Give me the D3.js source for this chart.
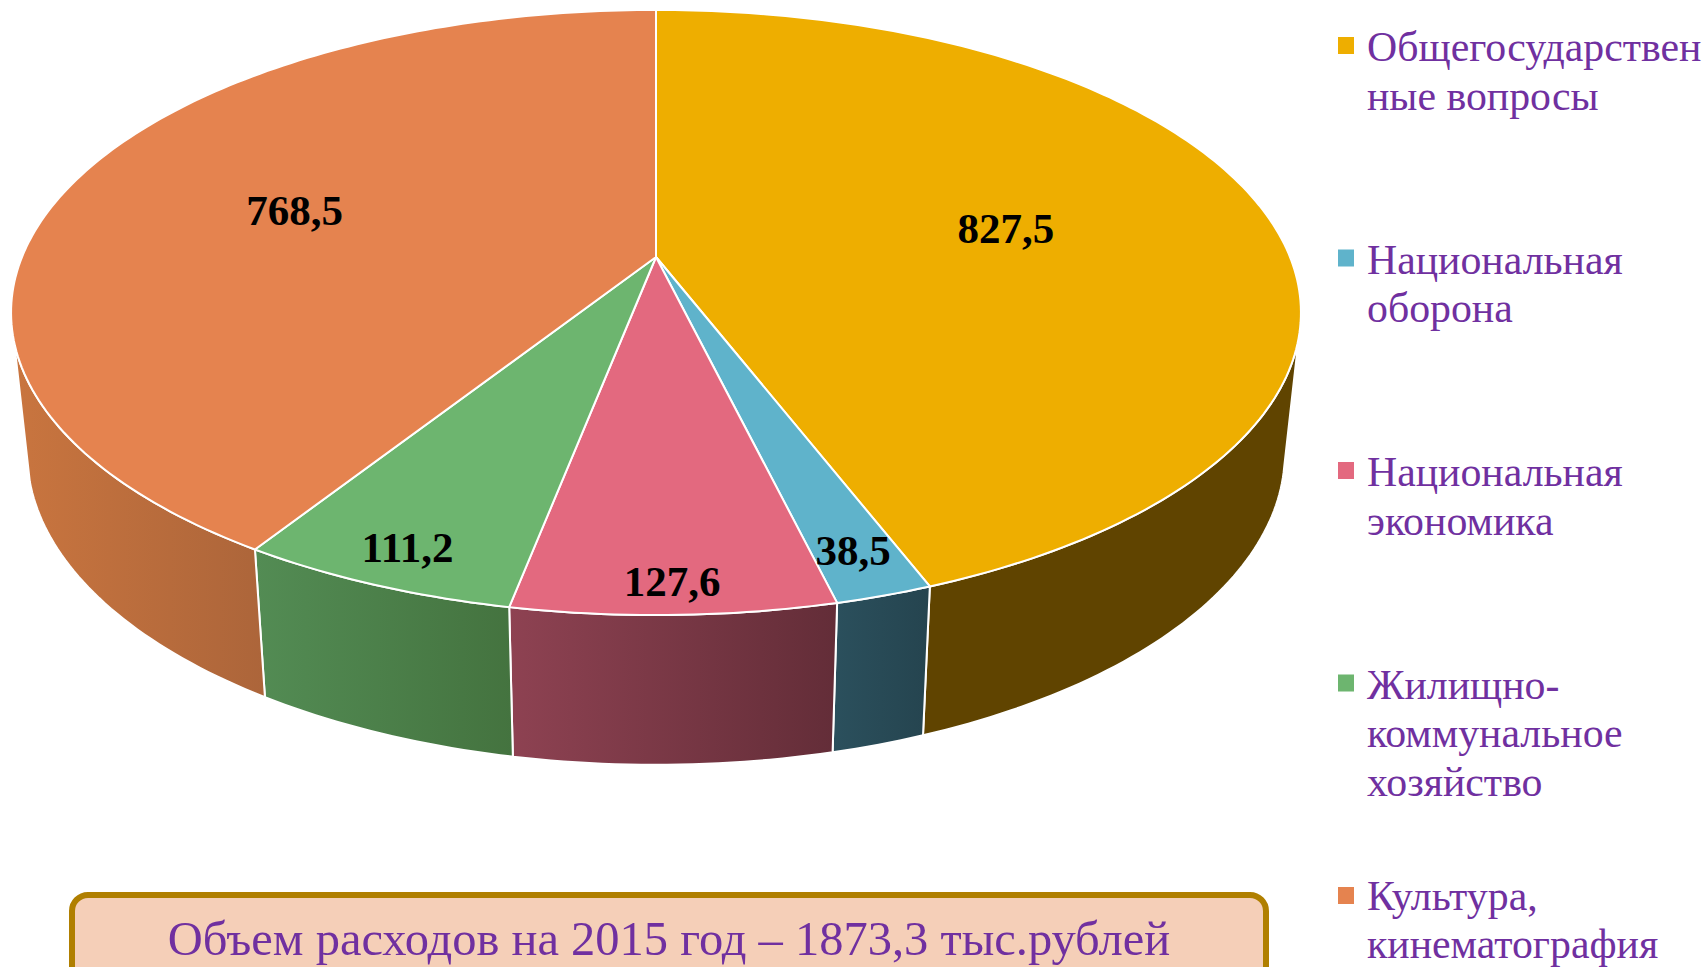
<!DOCTYPE html>
<html><head><meta charset="utf-8">
<script src="https://cdn.jsdelivr.net/npm/d3@7"></script>
<style>html,body{margin:0;padding:0;background:#fff;overflow:hidden}svg{display:block}text{font-family:"Liberation Serif","Times New Roman",serif}</style>
</head><body><svg id="c" width="1707" height="967"></svg>
<script>
const categories = ["Общегосударственные вопросы","Национальная оборона","Национальная экономика","Жилищно-коммунальное хозяйство","Культура, кинематография"];
const legendLines = [["Общегосударствен","ные вопросы"],["Национальная","оборона"],["Национальная","экономика"],["Жилищно-","коммунальное","хозяйство"],["Культура,","кинематография"]];
const values = [827.5,38.5,127.6,111.2,768.5];
const valueLabels = ["827,5","38,5","127,6","111,2","768,5"];
const topColors = ["#EEAE00","#5FB3CB","#E3697F","#6DB56F","#E5834F"];
const wallFrom = ["#604400","#2B505D","#8E4252","#538C54","#C9753F"];
const wallTo = ["#604400","#25444F","#632D38","#44733F","#AC653A"];
const labelRadius = [0.572,0.885,0.92,0.9,0.612];
const title = "Объем расходов на 2015 год – 1873,3 тыс.рублей";

const svg = d3.select("#c");
const K = 0.1834, A = 634, B = 292.4, CX = 656, CY = 257;
const BOTTOM_SX = 0.975, BOTTOM_SY = 1.03, BOTTOM_CY = 396;
const project = (t, r = 1) => {
  const u = r * Math.sin(t), v = -r * Math.cos(t), d = 1 - K * v;
  return [CX + A * u / d, CY + B * v / d];
};
const projectBottom = (t) => {
  const [x, y] = project(t);
  return [CX + BOTTOM_SX * (x - CX), BOTTOM_CY + BOTTOM_SY * (y - CY)];
};
const rad = d => d * Math.PI / 180;
const sampled = (a, b) => {
  const n = Math.max(2, Math.ceil(Math.abs(b - a) / rad(1)));
  return d3.range(n + 1).map(i => a + (b - a) * i / n);
};
const line = d3.line();
const color = d3.scaleOrdinal(categories, topColors);
const pie = d3.pie().sort(null).value(d => d.value).startAngle(0).endAngle(2 * Math.PI);
const slices = pie(categories.map((name, i) => ({name, value: values[i], i})));

const defs = svg.append("defs");
slices.forEach(s => {
  const i = s.data.i;
  const g = defs.append("linearGradient").attr("id", "w" + i).attr("x1", 0).attr("x2", 1).attr("y1", 0).attr("y2", 0);
  g.append("stop").attr("offset", 0).attr("stop-color", wallFrom[i]);
  g.append("stop").attr("offset", 1).attr("stop-color", wallTo[i]);
});

// visible part of the side wall
const TOP_MIN = rad(105), TOP_MAX = rad(254), BOT_MIN = rad(103), BOT_MAX = rad(254.3);
const clampRange = (s, lo, hi) => [Math.max(s.startAngle, lo), Math.min(s.endAngle, hi)];
svg.append("g").selectAll("path").data(slices.filter(s => s.endAngle > BOT_MIN && s.startAngle < BOT_MAX)).join("path")
  .attr("d", s => {
    const [a, b] = clampRange(s, TOP_MIN, TOP_MAX);
    const [c, d] = clampRange(s, BOT_MIN, BOT_MAX);
    return line([...sampled(a, b).map(t => project(t)), ...sampled(d, c).map(projectBottom)]) + "Z";
  })
  .attr("fill", s => `url(#w${s.data.i})`)
  .attr("stroke", "#fff").attr("stroke-width", 2).attr("stroke-linejoin", "round");

svg.append("g").selectAll("path").data(slices).join("path")
  .attr("d", s => line([project(0, 0), ...sampled(s.startAngle, s.endAngle).map(t => project(t))]) + "Z")
  .attr("fill", s => color(s.data.name))
  .attr("stroke", "#fff").attr("stroke-width", 2).attr("stroke-linejoin", "round");

svg.append("g").selectAll("text").data(slices).join("text")
  .attr("transform", s => {
    const [x, y] = project((s.startAngle + s.endAngle) / 2, labelRadius[s.data.i]);
    return `translate(${x},${y})`;
  })
  .attr("text-anchor", "middle").attr("dy", "0.37em")
  .attr("font-size", 43).attr("font-weight", "bold").attr("fill", "#000")
  .text(s => valueLabels[s.data.i]);

// legend
const legendY = d3.scaleLinear().domain([0, 1]).range([37, 249.5]);
const leg = svg.append("g").selectAll("g").data(categories).join("g")
  .attr("transform", (d, i) => `translate(1338,${legendY(i)})`);
leg.append("rect").attr("width", 16).attr("height", 17).attr("fill", d => color(d));
leg.each(function (d, i) {
  const last = i === categories.length - 1;
  d3.select(this).selectAll("text").data(legendLines[i]).join("text")
    .attr("x", 29).attr("y", (l, j) => (last ? 23 + j * 47.5 : 24 + j * 48.8))
    .attr("font-size", 41.8).attr("fill", "#7030A0").text(l => l);
});

// title box
svg.append("rect").attr("x", 72).attr("y", 895).attr("width", 1194).attr("height", 120).attr("rx", 16)
  .attr("fill", "#F5CFB8").attr("stroke", "#B07F00").attr("stroke-width", 6);
svg.append("text").attr("x", 669).attr("y", 955).attr("text-anchor", "middle")
  .attr("font-size", 48.5).attr("fill", "#7030A0").text(title);
</script></body></html>
